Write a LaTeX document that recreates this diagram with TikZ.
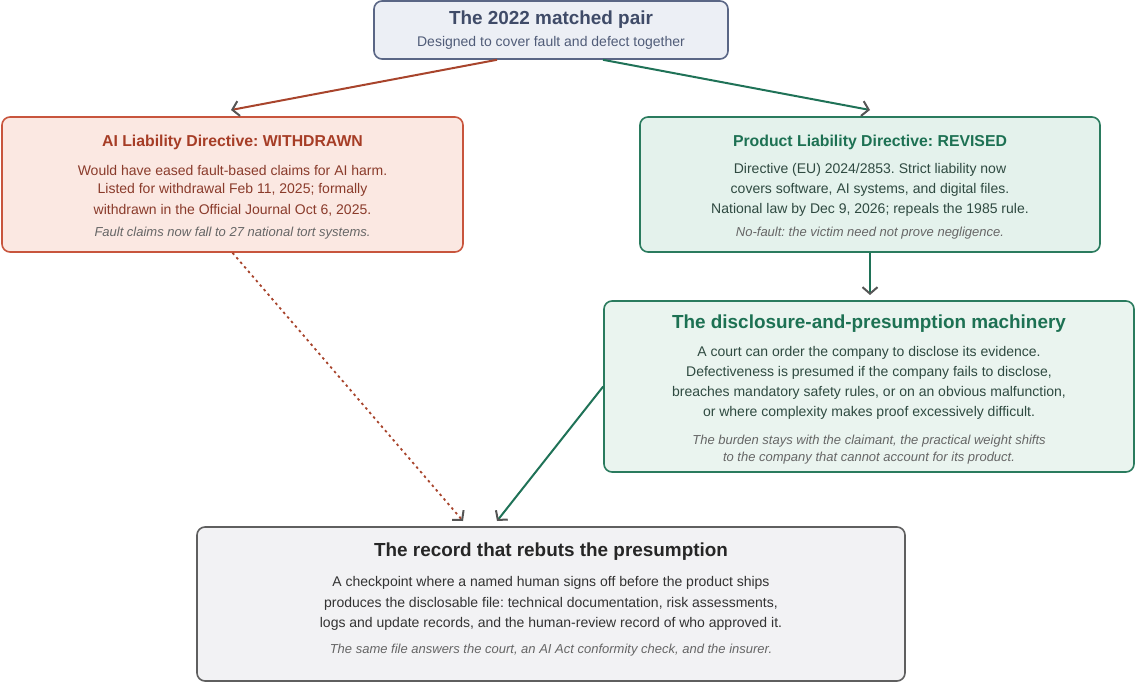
\documentclass[tikz,border=0pt]{standalone}
\usepackage{fontspec}
\setmainfont{Liberation Sans}
\frenchspacing
\usetikzlibrary{arrows.meta}
\definecolor{topfill}{HTML}{ECEFF5}
\definecolor{topdraw}{HTML}{5A6685}
\definecolor{toptext}{HTML}{3F4B68}
\definecolor{topsub}{HTML}{505C78}
\definecolor{redfill}{HTML}{FBE8E2}
\definecolor{reddraw}{HTML}{C8553D}
\definecolor{redtitle}{HTML}{A63D26}
\definecolor{redbody}{HTML}{8A3B2B}
\definecolor{grfill}{HTML}{E4F2EC}
\definecolor{grfillb}{HTML}{EAF4EF}
\definecolor{grdraw}{HTML}{2A7B5E}
\definecolor{grtitle}{HTML}{1D7153}
\definecolor{grbody}{HTML}{2F4A41}
\definecolor{gyfill}{HTML}{F2F2F4}
\definecolor{gydraw}{HTML}{5F5F5F}
\definecolor{gytitle}{HTML}{262626}
\definecolor{gybody}{HTML}{333333}
\definecolor{note}{HTML}{666666}
\definecolor{tipc}{HTML}{555555}
\definecolor{redline}{HTML}{A8442C}
\definecolor{grline}{HTML}{1F7257}
\tikzset{
  x=1pt, y=-1pt,
  box/.style={draw, rounded corners=8pt, line width=1.6pt, inner sep=0pt},
  ttl/.style={font=\bfseries\fontsize{15.8}{18}\selectfont, inner sep=0pt},
  bigttl/.style={font=\bfseries\fontsize{18.9}{22}\selectfont, inner sep=0pt},
  body/.style={font=\fontsize{14}{16}\selectfont, inner sep=0pt},
  notes/.style={font=\itshape\fontsize{13}{15}\selectfont, inner sep=0pt, text=note},
  conn/.style={line width=2pt, -{Straight Barb[color=tipc, length=6.5pt, width=15pt, line width=2pt]}},
}
\begin{document}
\begin{tikzpicture}
\useasboundingbox (0,0) rectangle (1135,684);
% boxes
\node[box, fill=topfill, draw=topdraw, minimum width=354pt, minimum height=58pt] (top) at (551,30) {};
\node[box, fill=redfill, draw=reddraw, minimum width=461pt, minimum height=135pt] (ald) at (232.5,184.5) {};
\node[box, fill=grfill, draw=grdraw, minimum width=460pt, minimum height=135pt] (pld) at (870,184.5) {};
\node[box, fill=grfillb, draw=grdraw, minimum width=530pt, minimum height=171pt] (mach) at (869,386.5) {};
\node[box, fill=gyfill, draw=gydraw, minimum width=708pt, minimum height=154pt] (rec) at (551,604) {};
% top texts
\node[bigttl, text=toptext] (topT) at (551,20) {The 2022 matched pair};
\node[body, text=topsub] (topS) at (551,43) {Designed to cover fault and defect together};
% left texts
\node[ttl, text=redtitle] (aldT) at (232.5,142) {AI Liability Directive: WITHDRAWN};
\node[body, text=redbody] (ald1) at (232.5,170) {Would have eased fault-based claims for AI harm.};
\node[body, text=redbody] (ald2) at (232.5,190) {Listed for withdrawal Feb 11, 2025; formally};
\node[body, text=redbody] (ald3) at (232.5,210) {withdrawn in the Official Journal Oct 6, 2025.};
\node[notes] (aldN) at (232.5,233) {Fault claims now fall to 27 national tort systems.};
% right texts
\node[ttl, text=grtitle] (pldT) at (870,142) {Product Liability Directive: REVISED};
\node[body, text=grbody] (pld1) at (870,170) {Directive (EU) 2024/2853. Strict liability now};
\node[body, text=grbody] (pld2) at (870,190) {covers software, AI systems, and digital files.};
\node[body, text=grbody] (pld3) at (870,210) {National law by Dec 9, 2026; repeals the 1985 rule.};
\node[notes] (pldN) at (870,233) {No-fault: the victim need not prove negligence.};
% middle texts
\node[bigttl, text=grtitle] (machT) at (869,324) {The disclosure-and-presumption machinery};
\node[body, text=grbody] (mach1) at (869,353) {A court can order the company to disclose its evidence.};
\node[body, text=grbody] (mach2) at (869,373) {Defectiveness is presumed if the company fails to disclose,};
\node[body, text=grbody] (mach3) at (869,393) {breaches mandatory safety rules, or on an obvious malfunction,};
\node[body, text=grbody] (mach4) at (869,413) {or where complexity makes proof excessively difficult.};
\node[notes] (machN1) at (869,441) {The burden stays with the claimant, the practical weight shifts};
\node[notes] (machN2) at (869,458) {to the company that cannot account for its product.};
% bottom texts
\node[bigttl, text=gytitle] (recT) at (551,552) {The record that rebuts the presumption};
\node[body, text=gybody] (rec1) at (551,583) {A checkpoint where a named human signs off before the product ships};
\node[body, text=gybody] (rec2) at (551,604) {produces the disclosable file: technical documentation, risk assessments,};
\node[body, text=gybody] (rec3) at (551,624) {logs and update records, and the human-review record of who approved it.};
\node[notes] (recN) at (551,650) {The same file answers the court, an AI Act conformity check, and the insurer.};
% connector end points
\coordinate (aldIn) at (231,110);
\coordinate (pldIn) at (870,110);
\coordinate (machIn) at (870,295);
\coordinate (recInA) at (463,521);
\coordinate (recInB) at (497,521);
% connectors
\draw[conn, redline] ([xshift=-54pt]top.south) -- (aldIn);
\draw[conn, grline] ([xshift=52pt]top.south) -- (pldIn);
\draw[conn, grline] (pld.south) -- (machIn);
\draw[conn, redline, line width=1.8pt, dash pattern=on 2.5pt off 3.5pt] (ald.south) -- (recInA);
\draw[conn, grline] (mach.west) -- (recInB);
\end{tikzpicture}
\end{document}
